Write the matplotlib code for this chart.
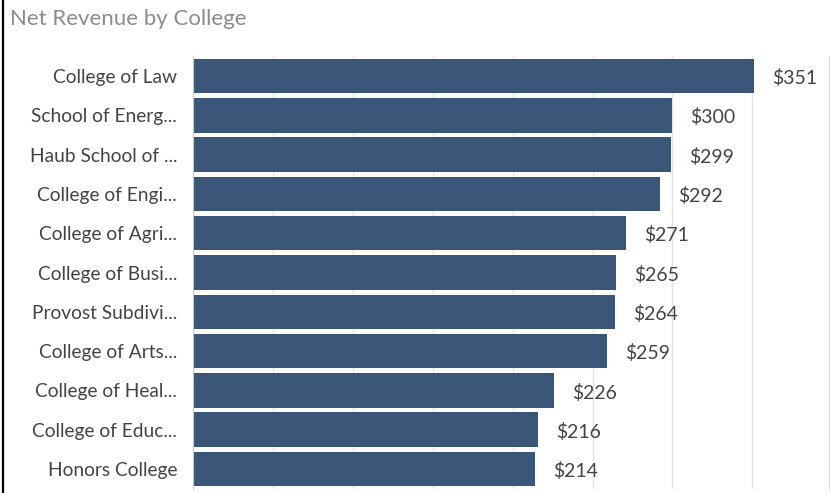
import matplotlib.pyplot as plt
from matplotlib.lines import Line2D

colleges = ['College of Law', 'School of Energ...', 'Haub School of ...',
            'College of Engi...', 'College of Agri...', 'College of Busi...',
            'Provost Subdivi...', 'College of Arts...', 'College of Heal...',
            'College of Educ...', 'Honors College']
revenue = [351, 300, 299, 292, 271, 265, 264, 259, 226, 216, 214]
grid_ticks = [0, 50, 100, 150, 200, 250, 300, 350]

plt.rcParams['font.family'] = ['Lato', 'DejaVu Sans']

fig = plt.figure(figsize=(8.31, 4.93), dpi=100)
ax = fig.add_axes([0.2323, 0.0087, 0.7653, 0.8771])

pos = list(range(len(colleges)))
ax.barh(pos, revenue, height=0.88, color='#3a5779', zorder=2)
ax.set_ylim(len(colleges) - 0.5, -0.5)
ax.set_xlim(0, 398)

# value labels a little past each bar end
for y, v in zip(pos, revenue):
    ax.annotate('$' + str(v), (v, y), xytext=(13, -1.5), textcoords='offset points',
                ha='left', va='center', fontsize=14, color='#444444')

ax.set_yticks(pos)
ax.set_yticklabels(colleges, fontsize=13.8, color='#444444')
ax.tick_params(axis='y', length=0, pad=11.5)
ax.set_xticks(grid_ticks)
ax.tick_params(axis='x', length=0, labelbottom=False)
ax.grid(axis='x', color='#e3e3e3', linewidth=1, zorder=0)

for side in ['top', 'bottom']:
    ax.spines[side].set_visible(False)
ax.spines['left'].set_color('#c8c8c8')
ax.spines['right'].set_color('#dcdcdc')

fig.text(0.012, 0.962, 'Net Revenue by College', fontsize=16, color='#8c8c8c',
         ha='left', va='center')
fig.add_artist(Line2D([0.004, 0.004], [0, 1], color='black', linewidth=1.6))

fig.savefig('out.png', dpi=100)
